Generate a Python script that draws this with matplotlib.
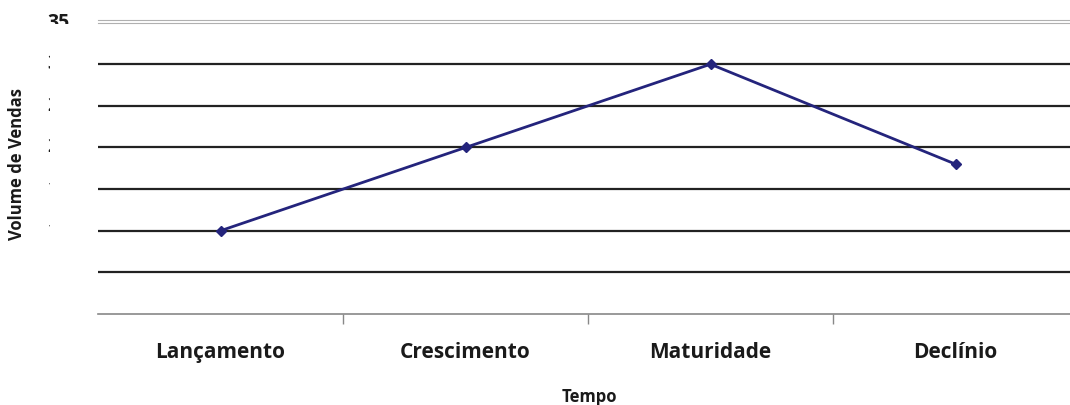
import matplotlib
matplotlib.use("Agg")
import matplotlib.pyplot as plt
from matplotlib.transforms import Bbox

# dados do gráfico
fases = ["Lançamento", "Crescimento", "Maturidade", "Declínio"]
vendas = [10, 20, 30, 18]
y_ticks = [0, 5, 10, 15, 20, 25, 30, 35]

plt.rcParams['font.family'] = ['Open Sans', 'DejaVu Sans']

W, H = 1070, 405
fig = plt.figure(figsize=(W / 100, H / 100), dpi=100)
ax = fig.add_axes([98 / W, 1 - 314 / H, 980 / W, (314 - 22.6) / H])

x = [i + 0.5 for i in range(len(fases))]
ax.set_xlim(0, len(fases))
ax.set_ylim(0, 35)

# linhas de grade
for v in y_ticks[1:-1]:
    ax.axhline(v, color='#222222', lw=1.6, zorder=1)
ax.axhline(35, color='#b0b0b0', lw=0.8, zorder=1, clip_on=False)
ax.axhline(35.28, color='#b0b0b0', lw=0.8, zorder=1, clip_on=False)

ax.plot(x, vendas, color='#24247c', lw=2, marker='D', markersize=5, zorder=3)

for s in ['left', 'right', 'top']:
    ax.spines[s].set_visible(False)
ax.spines['bottom'].set_color('#888888')
ax.spines['bottom'].set_linewidth(1.2)

ax.set_xticks(range(1, len(fases)))
ax.set_xticklabels([])
ax.tick_params(axis='x', direction='out', length=7, width=1, color='#888888')
ax.set_xticks(x, minor=True)
ax.set_xticklabels(fases, minor=True, fontsize=15, fontweight='bold', color='#1a1a1a')
ax.tick_params(axis='x', which='minor', length=0, pad=20)
ax.set_yticks([])

# rótulos do eixo y, cortados como no original
tr = ax.get_yaxis_transform()
for v in y_ticks:
    t = ax.text(-28 / 980, v, str(v), transform=tr, ha='right', va='center',
                fontsize=14, fontweight='bold', color='#1a1a1a')
    t.set_clip_on(True)
    if v == 35:
        t.set_clip_box(Bbox([[0, H - 24], [W, H]]))
    else:
        t.set_clip_box(Bbox([[0, 0], [49.5, H]]))

fig.text(589 / W, 1 - 397 / H, "Tempo", ha='center', va='center',
         fontsize=12, fontweight='bold', color='#1a1a1a')
fig.text(17 / W, 1 - 164 / H, "Volume de Vendas", ha='center', va='center',
         rotation=90, fontsize=12, fontweight='bold', color='#1a1a1a')

fig.savefig("out.png", dpi=100)
